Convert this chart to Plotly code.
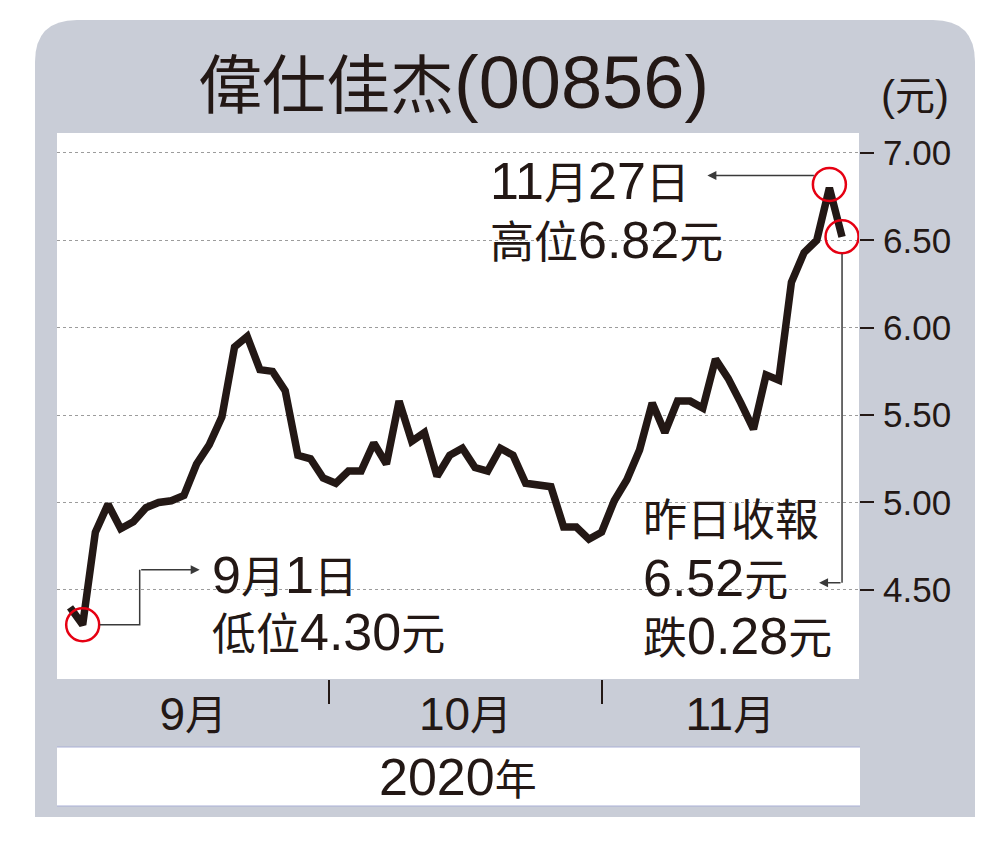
import re
import plotly.graph_objects as go

# ---------------- data ----------------
day = list(range(62))  # trading-day index, 1 Sep 2020 .. 30 Nov 2020
price = [4.40, 4.30, 4.83, 4.99, 4.85, 4.89, 4.97, 5.00, 5.01, 5.04,
         5.22, 5.33, 5.49, 5.89, 5.95, 5.76, 5.75, 5.64, 5.27, 5.25,
         5.14, 5.11, 5.18, 5.18, 5.34, 5.22, 5.58, 5.35, 5.40, 5.15,
         5.27, 5.31, 5.20, 5.18, 5.31, 5.27, 5.11, 5.10, 5.09, 4.86,
         4.86, 4.79, 4.83, 5.01, 5.13, 5.30, 5.57, 5.40, 5.58, 5.58,
         5.54, 5.82, 5.71, 5.57, 5.42, 5.73, 5.70, 6.26, 6.43, 6.50,
         6.80, 6.52]
low_day, low_val = 1, 4.30
high_day, high_val = 60, 6.82
close_day, close_val = 61, 6.52
month_labels = ["9月", "10月", "11月"]
month_breaks = [20.5, 42]
y_ticks = [4.5, 5.0, 5.5, 6.0, 6.5, 7.0]
title_text = "偉仕佳杰(00856)"
unit_text = "(元)"
year_text = "2020年"
low_lines = ["9月1日", "低位4.30元"]
high_lines = ["11月27日", "高位6.82元"]
close_lines = ["昨日收報", "6.52元", "跌0.28元"]

# ---------------- style ----------------
INK = "#231815"
RED = "#e60012"
GRAY = "#c9cdd7"
CONN = "#3a3a3a"
FONT = "Liberation Sans, Noto Sans CJK TC, sans-serif"

W, H = 1000, 863
ML, MR, MT, MB = 57, 141, 133, 184
PW, PH = W - ML - MR, H - MT - MB
x_range = [-1.03, 62.34]
y_range = [3.99, 7.114]


def xp(px):
    return (px - ML) / PW


def yp(py):
    return (H - MB - py) / PH


def dx(px):
    return px * (x_range[1] - x_range[0]) / PW


def dy(px):
    return px * (y_range[1] - y_range[0]) / PH


def mix(s, num_size):
    return re.sub(r'([0-9A-Za-z.()]+)',
                  lambda m: f'<span style="font-size:{num_size}px">{m.group(1)}</span>', s)


fig = go.Figure()
fig.add_trace(go.Scatter(x=day, y=price, mode="lines",
                         line=dict(color=INK, width=7.5), hoverinfo="skip"))
fig.add_trace(go.Scatter(x=[low_day, high_day, close_day],
                         y=[low_val, high_val, close_val], mode="markers",
                         marker=dict(symbol="circle-open", size=33, color=RED,
                                     line=dict(width=2.5, color=RED)),
                         hoverinfo="skip"))

shapes = []
# gray rounded panel
L, R, T, B, r = 35, 975, 20, 817, 42
shapes.append(dict(type="path", xref="paper", yref="paper", layer="below",
                   path=(f"M{xp(L)},{yp(B)} L{xp(L)},{yp(T + r)} Q{xp(L)},{yp(T)} {xp(L + r)},{yp(T)} "
                         f"L{xp(R - r)},{yp(T)} Q{xp(R)},{yp(T)} {xp(R)},{yp(T + r)} L{xp(R)},{yp(B)} Z"),
                   fillcolor=GRAY, line=dict(width=0)))
# white plot area
shapes.append(dict(type="rect", xref="paper", yref="paper", layer="below",
                   x0=0, x1=1, y0=0, y1=1, fillcolor="white", line=dict(width=0)))
# white year box
shapes.append(dict(type="rect", xref="paper", yref="paper", layer="below",
                   x0=xp(57), x1=xp(860), y0=yp(806), y1=yp(747),
                   fillcolor="white", line=dict(width=0)))
for yy in (747, 806):
    shapes.append(dict(type="line", xref="paper", yref="paper", layer="below",
                       x0=xp(57), x1=xp(860), y0=yp(yy), y1=yp(yy),
                       line=dict(color="#a9b0d6", width=1.2)))
# connectors
shapes.append(dict(type="path", xref="x", yref="y",
                   path=(f"M{low_day + dx(17)},{low_val} L{low_day + dx(57)},{low_val} "
                         f"L{low_day + dx(57)},{low_val + dy(55)}"),
                   line=dict(color=CONN, width=1.5)))
shapes.append(dict(type="line", xref="x", yref="y",
                   x0=close_day, x1=close_day,
                   y0=close_val - dy(17), y1=close_val - dy(346),
                   line=dict(color=CONN, width=1.5)))

ann = []
# arrows
ann.append(dict(x=low_day + dx(117), y=low_val + dy(55), xref="x", yref="y",
                ax=-60, ay=0, text="", showarrow=True, arrowhead=2, arrowsize=1.2,
                arrowwidth=1.5, arrowcolor=CONN, standoff=0, startstandoff=0))
ann.append(dict(x=high_day - dx(122), y=high_val + dy(9), xref="x", yref="y",
                ax=108, ay=0, text="", showarrow=True, arrowhead=2, arrowsize=1.2,
                arrowwidth=1.5, arrowcolor=CONN, standoff=0, startstandoff=0))
ann.append(dict(x=close_day - dx(23), y=close_val - dy(346), xref="x", yref="y",
                ax=23, ay=0, text="", showarrow=True, arrowhead=2, arrowsize=1.2,
                arrowwidth=1.5, arrowcolor=CONN, standoff=0, startstandoff=0))


def text_ann(txt, x, y, size, num_size, xanchor="left"):
    return dict(text=mix(txt, num_size), x=x, y=y, xref="paper", yref="paper",
                xanchor=xanchor, yanchor="middle", showarrow=False,
                font=dict(family=FONT, size=size, color=INK))


for t, py in zip(low_lines, (575, 632)):
    ann.append(text_ann(t, xp(210), yp(py), 44, 52))
for t, py in zip(high_lines, (181, 240)):
    ann.append(text_ann(t, xp(488), yp(py), 44, 52))
for t, py in zip(close_lines, (520, 578, 636)):
    ann.append(text_ann(t, xp(641), yp(py), 44, 52))

ann.append(text_ann(title_text, xp(453), yp(82), 64, 74, xanchor="center"))
ann.append(text_ann(unit_text, xp(915), yp(95), 40, 42, xanchor="center"))
ann.append(text_ann(year_text, xp(458), yp(777), 42, 52, xanchor="center"))

bounds = [x_range[0]] + month_breaks + [x_range[1]]
month_pos = [(bounds[i] + bounds[i + 1]) / 2 for i in range(len(month_labels))]

fig.update_layout(
    width=W, height=H,
    margin=dict(l=ML, r=MR, t=MT, b=MB, pad=0),
    paper_bgcolor="white", plot_bgcolor="rgba(0,0,0,0)",
    showlegend=False,
    shapes=shapes, annotations=ann,
    xaxis=dict(range=x_range, showgrid=False, zeroline=False, showline=False,
               tickmode="array", tickvals=month_pos,
               ticktext=[mix(m, 46) for m in month_labels],
               ticks="", ticklabelstandoff=8,
               tickfont=dict(family=FONT, size=42, color=INK),
               minor=dict(tickmode="array", tickvals=month_breaks, ticks="outside",
                          ticklen=24, tickwidth=1.5, tickcolor=INK, showgrid=False)),
    yaxis=dict(range=y_range, side="right", tickmode="array", tickvals=y_ticks,
               tickformat=".2f", ticks="outside", ticklen=14, tickwidth=2,
               tickcolor=INK, showgrid=True, gridcolor="#9c9c9c", griddash="dot",
               gridwidth=1, zeroline=False, showline=False, ticklabelstandoff=2,
               tickfont=dict(family=FONT, size=35, color=INK)),
)

fig.write_html("out.html", config={"displayModeBar": False},
               post_script="document.body.style.margin='0';")
